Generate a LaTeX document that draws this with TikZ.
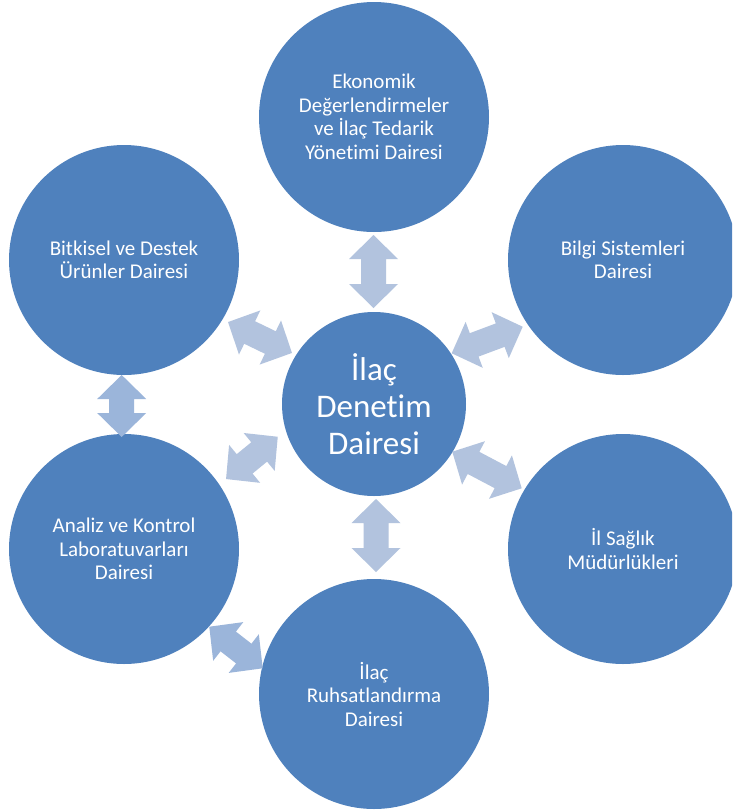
\documentclass[tikz,border=0pt]{standalone}
\usepackage{fontspec}
\setmainfont{Carlito}[Ligatures={NoCommon}]
\definecolor{circblue}{HTML}{4F81BD}
\definecolor{arrowlight}{HTML}{B2C3DE}
\definecolor{arrowmid}{HTML}{9BB5DA}
\def\arhead{24}
\def\arhw{24.5}
\def\arsw{12.5}
\newcommand{\blockarrow}[6]{%
  \begin{scope}[shift={(#2,#3)}, rotate=#4]
    \pgfmathsetmacro{\arhalf}{#5/2}
    \coordinate (#1) at (0,0);
    \fill[#6] (-\arhalf,0) -- (-\arhalf+\arhead,\arhw) -- (-\arhalf+\arhead,\arsw)
      -- (\arhalf-\arhead,\arsw) -- (\arhalf-\arhead,\arhw) -- (\arhalf,0)
      -- (\arhalf-\arhead,-\arhw) -- (\arhalf-\arhead,-\arsw)
      -- (-\arhalf+\arhead,-\arsw) -- (-\arhalf+\arhead,-\arhw) -- cycle;
  \end{scope}}
\tikzset{
  outer/.style={circle, fill=circblue, draw=none, minimum size=230pt, inner sep=0pt,
    text=white, align=center, font=\fontsize{21}{23.5}\selectfont},
  hub/.style={circle, fill=circblue, draw=none, minimum size=184pt, inner sep=0pt,
    text=white, align=center, font=\fontsize{33}{37}\selectfont}
}
\begin{document}
\begin{tikzpicture}[x=1pt, y=-1pt]
  \clip (0,0) rectangle (732,812);
  \fill[white] (0,0) rectangle (732,812);
  % circles
  \node[hub] (center) at (374,404) {İlaç\\Denetim\\Dairesi};
  \node[outer] (top) at (374,117) {Ekonomik\\Değerlendirmeler\\ve İlaç Tedarik\\Yönetimi Dairesi};
  \node[outer] (topleft) at (124,260) {Bitkisel ve Destek\\Ürünler Dairesi};
  \node[outer] (topright) at (623,260) {Bilgi Sistemleri\\Dairesi};
  \node[outer] (botleft) at (124,549) {Analiz ve Kontrol\\Laboratuvarları\\Dairesi};
  \node[outer] (botright) at (623,549) {İl Sağlık\\Müdürlükleri};
  \node[outer] (bottom) at (374,694) {İlaç\\Ruhsatlandırma\\Dairesi};
  % block arrows
  \blockarrow{a1}{260}{337.5}{-25.8}{71}{arrowlight}
  \blockarrow{a2}{487.2}{340}{20.5}{75.8}{arrowlight}
  \blockarrow{a3}{251.9}{457.9}{39.3}{66.8}{arrowlight}
  \blockarrow{a4}{487}{470}{-27.8}{78.5}{arrowlight}
  \blockarrow{a5}{373.5}{271.5}{90}{73}{arrowlight}
  \blockarrow{a6}{376}{535.5}{90}{73}{arrowlight}
  \blockarrow{a7}{121.7}{406}{90}{62}{arrowmid}
  \blockarrow{a8}{236}{647.5}{-37.9}{67.7}{arrowmid}
\end{tikzpicture}
\end{document}
